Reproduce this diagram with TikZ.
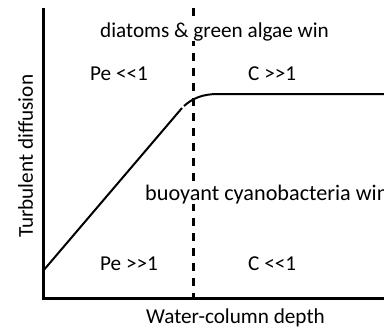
\documentclass[tikz,border=0pt]{standalone}
\usepackage{fontspec}
\setmainfont{Carlito}
\newcommand{\dlt}{<\kern0pt<}
\newcommand{\dgt}{>\kern0pt>}
\begin{document}
\begin{tikzpicture}[x=1pt,y=-1pt,
  lbl/.style={inner sep=0pt,anchor=base west,font=\fontsize{21.2}{25}\selectfont},
  wlbl/.style={lbl,fill=white},
  axisline/.style={line width=3pt},
  curveline/.style={line width=2pt},
  divider/.style={line width=3pt,dash pattern=on 8pt off 7pt}]
\useasboundingbox (0,0) rectangle (384,330);
\clip (0,0) rectangle (384,330);
\coordinate (dtop) at (193,8);
\coordinate (dbot) at (193,298);
\draw[divider] (dtop) -- (dbot);
\node[wlbl] (t1) at (100,37) {diatoms \& green algae win};
\node[lbl] (t2) at (90,80) {Pe \dlt1};
\node[lbl] (t3) at (248,80) {C \dgt1};
\node[wlbl,font=\fontsize{22.2}{26}\selectfont] (t4) at (145,200) {buoyant cyanobacteria win};
\node[lbl] (t5) at (100,270) {Pe \dgt1};
\node[lbl] (t6) at (248,270) {C \dlt1};
\node[lbl] (xl) at (146,323) {Water-column depth};
\node[lbl,rotate=90] (yl) at (33,238) {Turbulent diffusion};
\coordinate (o) at (43,298);
\coordinate (ytop) at (43,8);
\coordinate (xend) at (386,298);
\draw[axisline] (ytop) -- (o) -- (xend);
\coordinate (c0) at (43,271);
\coordinate (c1) at (182,108);
\coordinate (c2) at (184,106);
\coordinate (c3) at (218,94);
\coordinate (c4) at (386,94);
\draw[curveline] (c0) -- (c1);
\draw[curveline] (c2) .. controls (193,98) and (203,94) .. (c3) -- (c4);
\end{tikzpicture}
\end{document}
